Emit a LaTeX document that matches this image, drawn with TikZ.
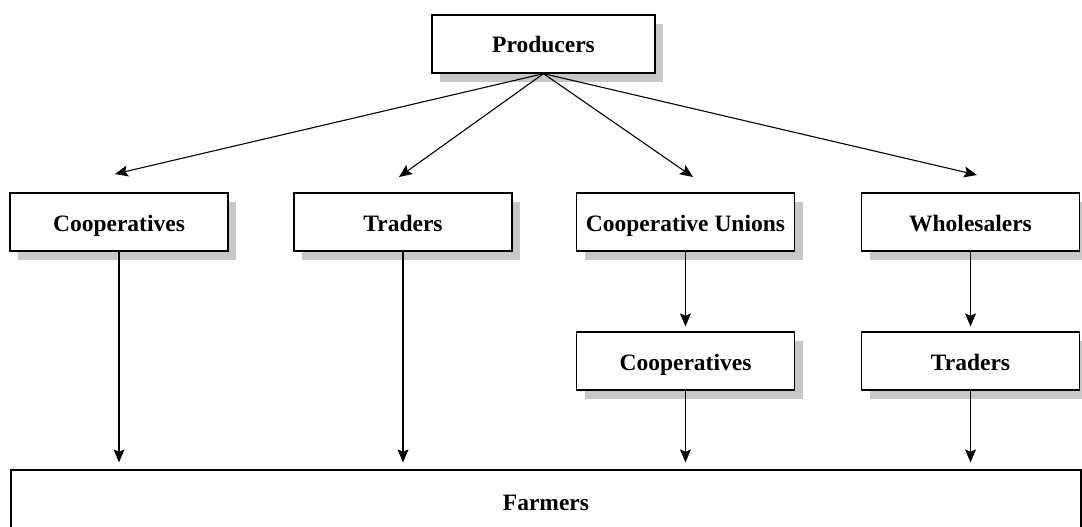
\documentclass[tikz,border=0pt]{standalone}
\usepackage{fontspec}
\setmainfont{Liberation Serif}
\usetikzlibrary{arrows.meta,shadows}
\begin{document}
\begin{tikzpicture}[x=1pt,y=-1pt,
  box/.style={draw=black, line width=1.3pt, fill=white, minimum width=218pt, minimum height=58pt,
    font=\fontsize{23.5}{28}\selectfont\bfseries, inner sep=0pt, text height=18pt, text depth=0pt,
    drop shadow={shadow xshift=8pt, shadow yshift=-9pt, fill=black!22, opacity=1}},
  flatbox/.style={draw=black, line width=1.3pt, fill=white, inner sep=0pt,
    text height=18pt, text depth=0pt,
    font=\fontsize{23.5}{28}\selectfont\bfseries},
  arr/.style={line width=1.1pt, -{Stealth[length=13pt,width=11pt,inset=2.5pt]}}]
\useasboundingbox (0,0) rectangle (1082,527);
\clip (0,0) rectangle (1082,527);
\node[box, minimum width=223pt] (prod) at (543.5,44) {Producers};
\node[box] (c1) at (119,222) {Cooperatives};
\node[box] (c2) at (403,222) {Traders};
\node[box] (c3) at (685.5,222) {Cooperative Unions};
\node[box] (c4) at (970.5,222) {Wholesalers};
\node[box] (d3) at (685.5,361) {Cooperatives};
\node[box] (d4) at (970.5,361) {Traders};
\node[flatbox, minimum width=1070pt, minimum height=62pt] (far) at (546,501) {Farmers};
\coordinate (t1) at (115,174);
\coordinate (t2) at (399,177);
\coordinate (t3) at (693,177);
\coordinate (t4) at (977,175);
\draw[arr] (prod.south) -- (t1);
\draw[arr] (prod.south) -- (t2);
\draw[arr] (prod.south) -- (t3);
\draw[arr] (prod.south) -- (t4);
\draw[arr, shorten >=7pt] (c1.south) -- (c1.south |- far.north);
\draw[arr, shorten >=7pt] (c2.south) -- (c2.south |- far.north);
\draw[arr, shorten >=5pt] (c3.south) -- (d3.north);
\draw[arr, shorten >=5pt] (c4.south) -- (d4.north);
\draw[arr, shorten >=7pt] (d3.south) -- (d3.south |- far.north);
\draw[arr, shorten >=7pt] (d4.south) -- (d4.south |- far.north);
\end{tikzpicture}
\end{document}
